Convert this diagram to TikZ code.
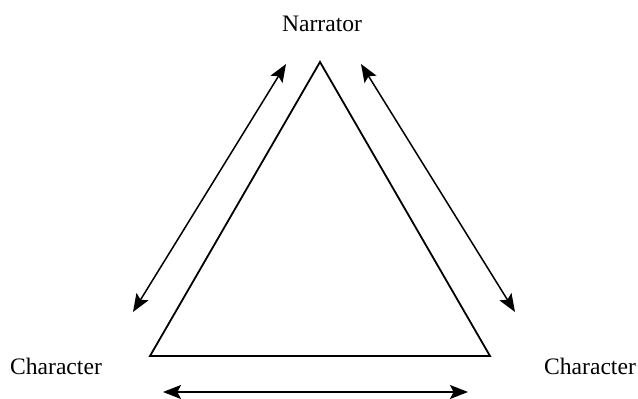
\documentclass[tikz,border=0pt]{standalone}
\usepackage{fontspec}
\setmainfont{Liberation Serif}
\usetikzlibrary{arrows.meta}
\begin{document}
\begin{tikzpicture}[x=0.5pt,y=-0.5pt,
  lbl/.style={font=\fontsize{11.8}{13}\selectfont, inner sep=0pt},
  dbl/.style={line width=0.75pt, {Stealth[length=9pt,width=7pt,inset=1.8pt]}-{Stealth[length=9pt,width=7pt,inset=1.8pt]}},
  tri/.style={line width=0.9pt, line join=miter}]
\useasboundingbox (0,0) rectangle (638,399);
\coordinate (A) at (320,62);
\coordinate (B) at (150,356);
\coordinate (C) at (490,356);
\draw[tri] (A) -- (B) -- (C) -- cycle;
\node[lbl] (narr) at (322,24) {Narrator};
\node[lbl] (lch) at (56,366) {Character};
\node[lbl] (rch) at (590,366) {Character};
\coordinate (l1) at (286,64);
\coordinate (l2) at (133,312);
\coordinate (r1) at (361,64);
\coordinate (r2) at (515,312);
\coordinate (b1) at (163,392);
\coordinate (b2) at (468,392);
\draw[dbl] (l1) -- (l2);
\draw[dbl] (r1) -- (r2);
\draw[dbl] (b1) -- (b2);
\end{tikzpicture}
\end{document}
